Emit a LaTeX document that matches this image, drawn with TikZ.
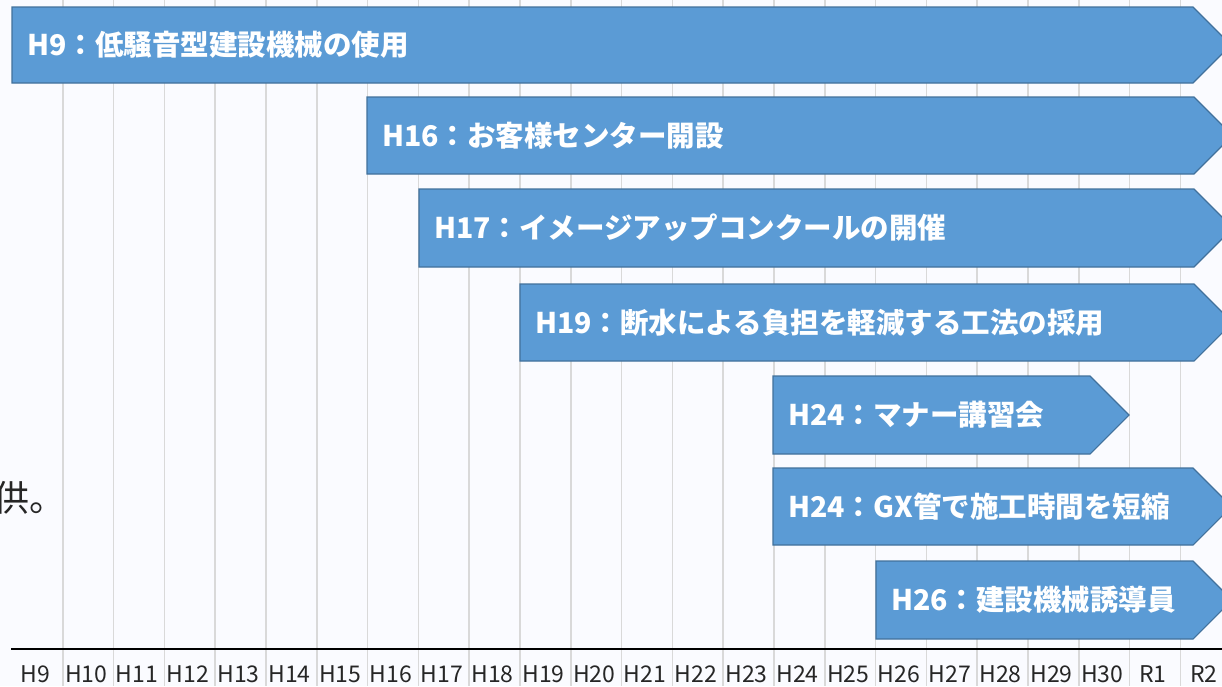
\documentclass[tikz,border=0pt]{standalone}
\usepackage{fontspec}
\newfontfamily\jp{Noto Sans CJK JP}
\definecolor{bg}{RGB}{250,251,255}
\definecolor{gridc}{RGB}{217,217,217}
\definecolor{barfill}{RGB}{91,155,213}
\definecolor{barline}{RGB}{65,113,156}
\tikzset{
  gridline/.style={draw=gridc, line width=1.6pt},
  axisline/.style={draw=black, line width=2.6pt},
  yearlbl/.style={font=\jp\fontsize{23}{27}\selectfont, text=black!85, inner sep=0pt},
  barshape/.style={fill=barfill, draw=barline, line width=1.1pt, line join=miter},
  bartext/.style={font=\jp\bfseries\fontsize{28.5}{33}\selectfont, text=white, inner sep=0pt, anchor=west},
  sidetext/.style={font=\jp\fontsize{36}{40}\selectfont, text=black!85, inner sep=0pt, anchor=base west}
}
\newcommand\tlbar[6]{%
  \filldraw[barshape] (#2,#3) -- (#5,#3) -- ({#5+(#4-#3)/2},{(#3+#4)/2}) -- (#5,#4) -- (#2,#4) -- cycle;
  \node[bartext] (#1) at ({#2+15},{(#3+#4)/2}) {#6};%
}
\begin{document}
\begin{tikzpicture}[x=1pt,y=-1pt]
\useasboundingbox (0,0) rectangle (1222,686);
\clip (0,0) rectangle (1222,686);
\fill[bg] (0,0) rectangle (1222,686);
% grid
\foreach \k in {1,...,23} {
  \draw[gridline] ({12+50.8*\k},0) -- ({12+50.8*\k},686);
}
% axis
\coordinate (axL) at (11,649);
\coordinate (axR) at (1222,649);
\draw[axisline] (axL) -- (axR);
% year labels
\foreach \t [count=\i from 0] in {H9,H10,H11,H12,H13,H14,H15,H16,H17,H18,H19,H20,H21,H22,H23,H24,H25,H26,H27,H28,H29,H30,R1,R2} {
  \node[yearlbl] (yr\i) at ({12+50.8*(\i+0.5)-2},674) {\t};
}
% side text
\node[sidetext] (side) at (-7,511) {供。};
% bars
\tlbar{b1}{12}{7}{83}{1193}{H9：低騒音型建設機械の使用}
\tlbar{b2}{367}{97}{174}{1194}{H16：お客様センター開設}
\tlbar{b3}{419}{189}{267}{1194}{H17：イメージアップコンクールの開催}
\tlbar{b4}{520}{284}{361}{1194}{H19：断水による負担を軽減する工法の採用}
\tlbar{b5}{773}{376}{454}{1090}{H24：マナー講習会}
\tlbar{b6}{773}{468}{545}{1193}{H24：GX管で施工時間を短縮}
\tlbar{b7}{876}{561}{639}{1193}{H26：建設機械誘導員}
\end{tikzpicture}
\end{document}
